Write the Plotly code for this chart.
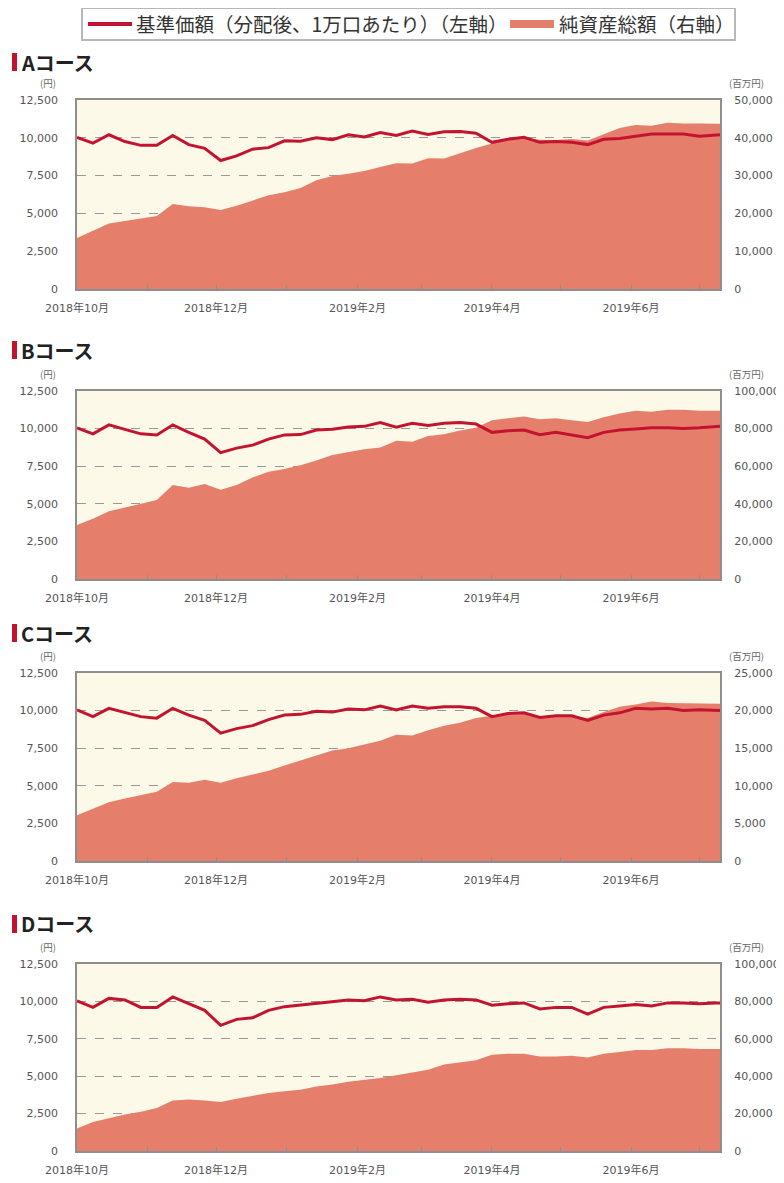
import plotly.graph_objects as go

# ---------------- data ----------------
dates = ["2018-10-01", "2018-10-08", "2018-10-15", "2018-10-22", "2018-10-29",
         "2018-11-05", "2018-11-12", "2018-11-19", "2018-11-26", "2018-12-03",
         "2018-12-10", "2018-12-17", "2018-12-24", "2018-12-31", "2019-01-07",
         "2019-01-14", "2019-01-21", "2019-01-28", "2019-02-04", "2019-02-11",
         "2019-02-18", "2019-02-25", "2019-03-04", "2019-03-11", "2019-03-18",
         "2019-03-25", "2019-04-01", "2019-04-08", "2019-04-15", "2019-04-22",
         "2019-04-29", "2019-05-06", "2019-05-13", "2019-05-20", "2019-05-27",
         "2019-06-03", "2019-06-10", "2019-06-17", "2019-06-24", "2019-07-01",
         "2019-07-08", "2019-07-10"]

nav_a = [10030, 9650, 10200, 9750, 9500, 9500, 10150, 9550, 9300, 8500,
         8800, 9250, 9350, 9800, 9780, 10000, 9880, 10200, 10050, 10350,
         10150, 10450, 10220, 10400, 10420, 10300, 9700, 9900, 10030, 9700,
         9750, 9700, 9550, 9900, 9960, 10100, 10250, 10250, 10250, 10100,
         10200, 10200]
na_a = [13500, 15300, 17300, 18000, 18700, 19300, 22500, 21900, 21600, 20900,
        22000, 23500, 24800, 25600, 26700, 28800, 29900, 30500, 31200, 32300,
        33300, 33200, 34600, 34500, 36000, 37300, 38500, 39600, 39900, 39500,
        39400, 39700, 39300, 40900, 42600, 43400, 43200, 44000, 43800, 43800,
        43700, 43700]

nav_b = [10040, 9650, 10250, 9950, 9650, 9580, 10250, 9750, 9300, 8400,
         8700, 8900, 9300, 9580, 9600, 9900, 9950, 10100, 10150, 10400,
         10100, 10350, 10200, 10350, 10400, 10300, 9750, 9850, 9900, 9600,
         9750, 9580, 9400, 9750, 9900, 9980, 10050, 10050, 10000, 10050,
         10150, 10150]
na_b = [28700, 32000, 36000, 38000, 40000, 42000, 50000, 48500, 50500, 47500,
        50000, 54000, 57000, 58500, 60500, 63000, 66000, 67500, 69000, 70000,
        73500, 73000, 76000, 77000, 79000, 80500, 84500, 85500, 86500, 85000,
        85500, 84500, 83500, 86000, 88000, 89500, 89000, 90000, 90000, 89500,
        89500, 89500]

nav_c = [10040, 9600, 10150, 9900, 9600, 9500, 10150, 9700, 9350, 8500,
         8800, 9000, 9400, 9700, 9750, 9950, 9900, 10100, 10050, 10300,
         10050, 10300, 10150, 10250, 10250, 10150, 9600, 9800, 9850, 9550,
         9650, 9650, 9350, 9700, 9850, 10150, 10100, 10150, 10000, 10050,
         10000, 10000]
na_c = [6100, 7000, 7800, 8300, 8800, 9200, 10500, 10400, 10800, 10400,
        11000, 11500, 12000, 12700, 13400, 14000, 14700, 15000, 15500, 16000,
        16800, 16700, 17400, 18000, 18400, 19000, 19300, 19500, 19600, 19200,
        19300, 19200, 19000, 19800, 20500, 20800, 21200, 21000, 21000, 20900,
        20900, 20900]

nav_d = [10040, 9600, 10200, 10100, 9600, 9600, 10300, 9850, 9400, 8400,
         8800, 8900, 9400, 9650, 9750, 9900, 9950, 10100, 10050, 10300,
         10100, 10150, 9950, 10100, 10150, 10100, 9750, 9850, 9900, 9500,
         9600, 9600, 9150, 9600, 9700, 9800, 9700, 9900, 9900, 9850,
         9900, 9900]
na_d = [12000, 15500, 17500, 19500, 21000, 23000, 27000, 27500, 27000, 26200,
        28000, 29500, 31000, 32000, 32800, 34500, 35500, 37000, 38000, 39000,
        40500, 42000, 43500, 46300, 47500, 48500, 51500, 52000, 52000, 50500,
        50500, 51000, 50000, 52000, 53000, 54000, 54000, 55000, 55000, 54500,
        54500, 54500]

course_titles = ["Aコース", "Bコース", "Cコース", "Dコース"]
right_axis_max = [50000, 100000, 25000, 100000]
left_axis_max = 12500

tick_dates = ["2018-10-01", "2018-12-01", "2019-02-01", "2019-04-01", "2019-06-01"]
tick_labels = ["2018年10月", "2018年12月", "2019年2月", "2019年4月", "2019年6月"]

legend_nav = "基準価額（分配後、1万口あたり）（左軸）"
legend_na = "純資産総額（右軸）"
unit_left = "(円)"
unit_right = "(百万円)"

# ---------------- layout helpers ----------------
# the page body has an 8px margin, so the figure is drawn at (8, 8)
OFF = 8
W, H = 784 - OFF, 1183 - OFF
def px(x):
    return (x - OFF) / W
def py(y):
    return 1 - (y - OFF) / H

PLOT_L, PLOT_R = 77, 720
panel_tops = [100, 391, 673, 964]
panel_bots = [289, 579, 861, 1151]
title_y = [62, 350, 633, 924]

LINE_COLOR = "#C3142F"
AREA_COLOR = "#E57F6B"
BG_COLOR = "#FDF9E8"
FRAME_COLOR = "#8E8E8E"
GRID_COLOR = "#9A9A9A"
TICK_FONT = dict(family="DejaVu Sans, Noto Sans CJK JP", size=11, color="#555555")
CJK = "Noto Sans CJK JP"

navs = [nav_a, nav_b, nav_c, nav_d]
nas = [na_a, na_b, na_c, na_d]

fig = go.Figure()
layout = dict(
    width=W, height=H,
    margin=dict(l=0, r=0, t=0, b=0, autoexpand=False),
    paper_bgcolor="white",
    plot_bgcolor=BG_COLOR,
    showlegend=False,
    shapes=[], annotations=[],
)

for i in range(4):
    xn = "" if i == 0 else str(i + 1)
    y_base = str(2 * i + 1) if i > 0 else ""
    y_over = str(2 * i + 2)
    xa = "x" + xn
    ya_base = "y" + y_base
    ya_over = "y" + y_over

    # net assets area (right axis, base layer)
    fig.add_trace(go.Scatter(
        x=dates, y=nas[i], xaxis=xa, yaxis=ya_base, mode="lines",
        line=dict(width=0, color=AREA_COLOR), fill="tozeroy",
        fillcolor=AREA_COLOR, name=legend_na, hoverinfo="x+y"))
    # NAV line (left axis, overlay layer)
    fig.add_trace(go.Scatter(
        x=dates, y=navs[i], xaxis=xa, yaxis=ya_over, mode="lines",
        line=dict(width=3, color=LINE_COLOR), name=legend_nav, hoverinfo="x+y"))

    dom_y = [py(panel_bots[i]), py(panel_tops[i])]
    layout["xaxis" + xn] = dict(
        domain=[px(PLOT_L), px(PLOT_R)], anchor=ya_base, automargin=False,
        range=["2018-10-01", "2019-07-10"], type="date",
        tickmode="array", tickvals=tick_dates, ticktext=tick_labels,
        ticks="inside", ticklen=4, tickcolor=FRAME_COLOR,
        minor=dict(ticks="inside", ticklen=4, dtick="M1", tick0="2018-10-01",
                   tickcolor=FRAME_COLOR),
        showgrid=False, zeroline=False,
        showline=True, mirror=True, linecolor=FRAME_COLOR, linewidth=2,
        tickfont=TICK_FONT, ticklabelstandoff=8,
    )
    layout["yaxis" + y_base] = dict(
        domain=dom_y, anchor=xa, side="right", automargin=False,
        range=[0, right_axis_max[i]], dtick=right_axis_max[i] / 5,
        tickformat=",d", showgrid=False, zeroline=False,
        showline=True, mirror=True, linecolor=FRAME_COLOR, linewidth=2,
        ticks="", tickfont=TICK_FONT, ticklabelstandoff=10,
    )
    layout["yaxis" + y_over] = dict(
        overlaying=ya_base, anchor=xa, side="left", automargin=False,
        range=[0, left_axis_max], dtick=2500, tickformat=",d",
        showgrid=True, gridcolor=GRID_COLOR, gridwidth=1, griddash="dash",
        zeroline=False, showline=False, ticks="",
        tickfont=TICK_FONT, ticklabelstandoff=18,
    )

    # panel title with red marker
    layout["shapes"].append(dict(
        type="rect", xref="paper", yref="paper",
        x0=px(12), x1=px(17), y0=py(title_y[i] + 9), y1=py(title_y[i] - 9),
        fillcolor="#C3142F", line=dict(width=0)))
    layout["annotations"].append(dict(
        text="<b>" + course_titles[i] + "</b>", xref="paper", yref="paper",
        x=px(19), y=py(title_y[i]), xanchor="left", yanchor="middle",
        showarrow=False, font=dict(family=CJK, size=20, color="#222222")))
    # unit labels
    layout["annotations"].append(dict(
        text=unit_left, xref="paper", yref="paper",
        x=px(58), y=py(panel_tops[i] - 17), xanchor="right", yanchor="middle",
        showarrow=False, font=dict(family=CJK, size=9.5, color="#666666")))
    layout["annotations"].append(dict(
        text=unit_right, xref="paper", yref="paper",
        x=px(727), y=py(panel_tops[i] - 17), xanchor="left", yanchor="middle",
        showarrow=False, font=dict(family=CJK, size=9.5, color="#666666")))

# custom legend box at top
layout["shapes"] += [
    dict(type="rect", xref="paper", yref="paper",
         x0=px(82), x1=px(735), y0=py(40), y1=py(8),
         line=dict(color="#B8B8B8", width=2), fillcolor="white"),
    dict(type="line", xref="paper", yref="paper",
         x0=px(88), x1=px(132), y0=py(24), y1=py(24),
         line=dict(color=LINE_COLOR, width=4)),
    dict(type="rect", xref="paper", yref="paper",
         x0=px(510), x1=px(554), y0=py(28), y1=py(20),
         fillcolor=AREA_COLOR, line=dict(width=0)),
]
layout["annotations"] += [
    dict(text=legend_nav, xref="paper", yref="paper", x=px(134), y=py(24),
         xanchor="left", yanchor="middle", showarrow=False,
         font=dict(family=CJK, size=19.5, color="#333333")),
    dict(text=legend_na, xref="paper", yref="paper", x=px(557), y=py(24),
         xanchor="left", yanchor="middle", showarrow=False,
         font=dict(family=CJK, size=19.5, color="#333333")),
]

fig.update_layout(**layout)
fig.write_html("out.html")
